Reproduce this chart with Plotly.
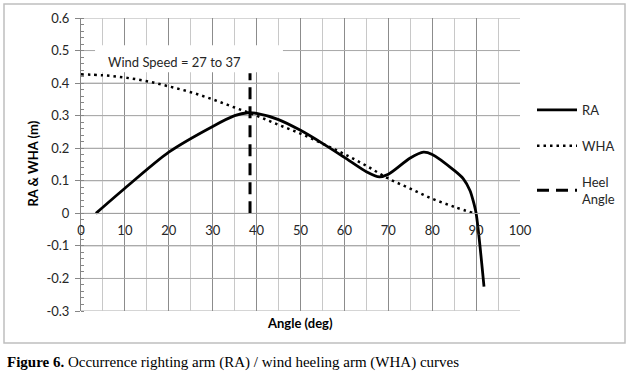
import plotly.graph_objects as go

# ---- data ----
ra_angle = [3.4, 10, 20, 30, 35, 38, 40, 45, 50, 55, 60, 65, 68, 70, 75, 78, 80, 85, 87.1, 88.6, 89.3, 90, 91.8]
ra_value = [0.0, 0.077, 0.188, 0.267, 0.300, 0.309, 0.307, 0.288, 0.255, 0.215, 0.172, 0.128, 0.112, 0.120, 0.170, 0.188, 0.181, 0.132, 0.106, 0.070, 0.040, 0.0, -0.225]

wha_angle = [0, 5, 10, 15, 20, 25, 30, 35, 40, 45, 50, 55, 60, 65, 70, 75, 80, 85, 89.5]
wha_value = [0.427, 0.424, 0.417, 0.406, 0.390, 0.372, 0.350, 0.325, 0.300, 0.272, 0.245, 0.214, 0.182, 0.146, 0.107, 0.076, 0.045, 0.020, 0.0]

heel_angle = [38.5, 38.5]
heel_value = [0.0, 0.43]

x_ticks = [0, 10, 20, 30, 40, 50, 60, 70, 80, 90, 100]
x_tick_labels = ["0", "10", "20", "30", "40", "50", "60", "70", "80", "90", "100"]
y_ticks = [-0.3, -0.2, -0.1, 0, 0.1, 0.2, 0.3, 0.4, 0.5, 0.6]
y_tick_labels = ["-0.3", "-0.2", "-0.1", "0", "0.1", "0.2", "0.3", "0.4", "0.5", "0.6"]

annotation_text = "Wind Speed = 27 to 37"
caption = "<b>Figure 6.</b> Occurrence righting arm (RA) / wind heeling arm (WHA) curves"

FONT = "Lato"
TXT = "#262626"
YGRID = "#ababab"

fig = go.Figure()
fig.add_trace(go.Scatter(x=ra_angle, y=ra_value, mode="lines", name="RA",
                         line=dict(color="black", width=2.8, shape="spline", smoothing=0.8),
                         legendgroup="a"))
fig.add_trace(go.Scatter(x=wha_angle, y=wha_value, mode="lines", name="WHA",
                         line=dict(color="black", width=2.5, dash="2.5px,4px", shape="spline"),
                         legendgroup="b"))
fig.add_trace(go.Scatter(x=heel_angle, y=heel_value, mode="lines", name="Heel<br>Angle",
                         line=dict(color="black", width=3, dash="12px,7px"),
                         legendgroup="c"))
# empty trace so the overlay axis (labels at y = 0) is drawn
fig.add_trace(go.Scatter(x=[None], y=[None], xaxis="x2", yaxis="y", mode="lines",
                         showlegend=False, hoverinfo="skip"))

L, R, T, B = 81, 110, 18, 63
W, H = 630, 374
pw, ph = W - L - R, H - T - B

def px_x(p):
    return (p - L) / pw

def px_y(p):
    return (H - B - p) / ph

fig.update_layout(
    width=W, height=H,
    margin=dict(l=L, r=R, t=T, b=B, autoexpand=False),
    paper_bgcolor="white", plot_bgcolor="white",
    font=dict(family=FONT, size=13, color=TXT),
    showlegend=True,
    legend=dict(x=px_x(532), y=px_y(95), xanchor="left", yanchor="top",
                font=dict(family=FONT, size=13, color=TXT),
                tracegroupgap=16, itemwidth=40, traceorder="grouped",
                bgcolor="rgba(0,0,0,0)"),
    # main x axis: grid only
    xaxis=dict(range=[0, 100], tickvals=x_ticks, showticklabels=False,
               showgrid=True, gridcolor="#8c8c8c", gridwidth=1,
               minor=dict(dtick=5, showgrid=True, gridcolor="#c8c8c8", gridwidth=1, ticks=""),
               zeroline=False, showline=False, ticks=""),
    # overlay x axis: line and labels at y = 0
    xaxis2=dict(range=[0, 100], tickvals=x_ticks, ticktext=x_tick_labels,
                overlaying="x", anchor="free", position=1/3, side="bottom",
                showgrid=False, zeroline=False, showline=True, linecolor="#a0a0a0", linewidth=1,
                ticks="", ticklabelstandoff=5,
                tickfont=dict(family=FONT, size=13, color=TXT)),
    yaxis=dict(range=[-0.3, 0.6], tickvals=y_ticks, ticktext=y_tick_labels,
               showgrid=True, gridcolor=YGRID, gridwidth=1,
               zeroline=False, showline=True, linecolor="#868686", linewidth=1,
               ticks="outside", ticklen=5, tickcolor="#868686", ticklabelstandoff=3,
               minor=dict(dtick=0.02, ticks="inside", ticklen=3, tickcolor="#868686"),
               tickfont=dict(family=FONT, size=13, color=TXT)),
)

# horizontal gridlines at the y tick values (drawn beneath everything else)
for v in y_ticks:
    fig.add_shape(type="line", xref="paper", yref="y", x0=0, x1=1, y0=v, y1=v,
                  line=dict(color=YGRID, width=1), layer="below")

# white box behind the annotation text
fig.add_shape(type="rect", xref="x", yref="y", x0=3.2, x1=46, y0=0.433, y1=0.516,
              fillcolor="white", line=dict(width=0), layer="between")
fig.add_annotation(x=px_x(174), y=0.466, xref="paper", yref="y", text=annotation_text,
                   xanchor="center", yanchor="middle",
                   showarrow=False, font=dict(family=FONT, size=13, color=TXT))

# axis titles
fig.add_annotation(x=px_x(300), y=px_y(323), xref="paper", yref="paper", text="<b>Angle (deg)</b>",
                   xanchor="center", yanchor="middle",
                   showarrow=False, font=dict(family=FONT, size=13, color="black"))
fig.add_annotation(x=px_x(33), y=px_y(163.5), xref="paper", yref="paper", text="<b>RA & WHA (m)</b>",
                   xanchor="center", yanchor="middle",
                   textangle=-90, showarrow=False, font=dict(family=FONT, size=13, color="black"))

# outer chart border
fig.add_shape(type="rect", xref="paper", yref="paper", x0=px_x(4), x1=px_x(625),
              y0=px_y(343), y1=px_y(4), line=dict(color="#bfbfbf", width=1.5), layer="below")

# caption
fig.add_annotation(x=px_x(5), y=px_y(362), xref="paper", yref="paper", text=caption,
                   xanchor="left", yanchor="middle", showarrow=False,
                   font=dict(family="Liberation Serif", size=15, color="black"))

fig.write_html("out.html", config={"displayModeBar": False},
               post_script="document.body.style.margin='0';")
